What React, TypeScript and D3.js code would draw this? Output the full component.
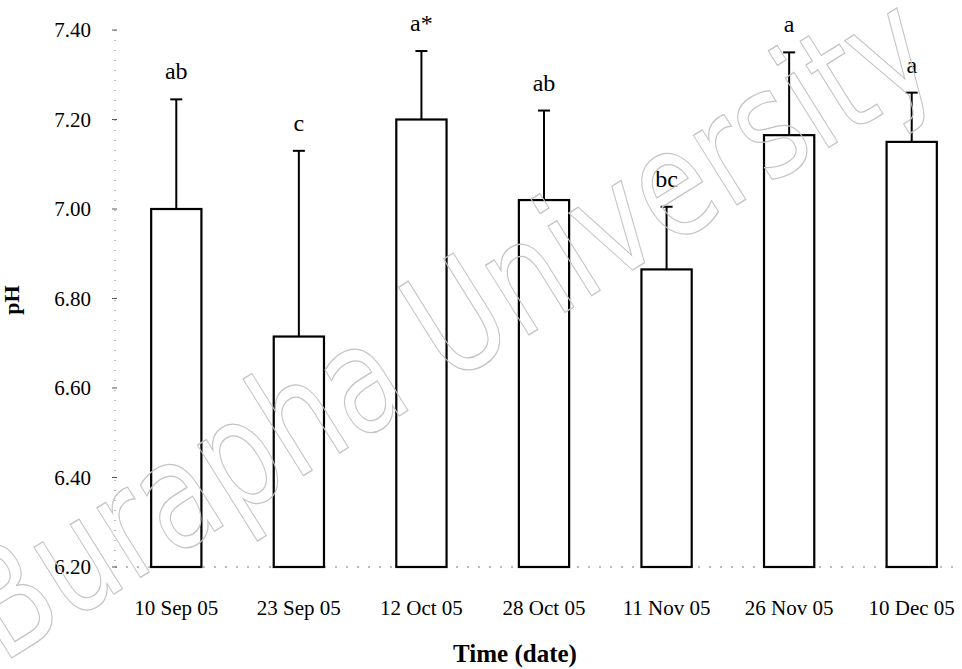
import React, { useEffect, useRef } from "react";
import * as d3 from "d3";

const dates = ["10 Sep 05", "23 Sep 05", "12 Oct 05", "28 Oct 05", "11 Nov 05", "26 Nov 05", "10 Dec 05"];
const meanPH = [7.0, 6.715, 7.2, 7.02, 6.865, 7.165, 7.15];
const upperPH = [7.245, 7.13, 7.353, 7.22, 7.005, 7.35, 7.26];
const groups = ["ab", "c", "a*", "ab", "bc", "a", "a"];
const yTicks = [6.2, 6.4, 6.6, 6.8, 7.0, 7.2, 7.4];

const App = () => {
  const svgRef = useRef<SVGSVGElement>(null);

  useEffect(() => {
    const width = 962;
    const height = 669;
    const serif = "'Liberation Serif', 'Times New Roman', serif";
    document.body.style.margin = "0";

    const svg = d3
      .select(svgRef.current)
      .attr("width", width)
      .attr("height", height)
      .style("display", "block")
      .style("background", "#fff");
    svg.selectAll("*").remove();

    const x = d3.scaleBand().domain(dates).range([115, 973]).paddingInner(0.59).paddingOuter(0.295);
    const y = d3.scaleLinear().domain([6.2, 7.4]).range([567, 30]);

    // axes (dotted, as in the scan)
    svg
      .append("line")
      .attr("x1", 115)
      .attr("x2", 115)
      .attr("y1", y(7.4))
      .attr("y2", y(6.2))
      .attr("stroke", "#777")
      .attr("stroke-dasharray", "1,9");
    svg
      .append("line")
      .attr("x1", 115)
      .attr("x2", 962)
      .attr("y1", y(6.2))
      .attr("y2", y(6.2))
      .attr("stroke", "#777")
      .attr("stroke-dasharray", "2,9");

    const yAxis = svg.append("g");
    yAxis
      .selectAll("line")
      .data(yTicks)
      .join("line")
      .attr("x1", 112)
      .attr("x2", 117)
      .attr("y1", (d) => y(d))
      .attr("y2", (d) => y(d))
      .attr("stroke", "#555");
    yAxis
      .selectAll("text")
      .data(yTicks)
      .join("text")
      .attr("x", 91)
      .attr("y", (d) => y(d))
      .attr("dy", "0.35em")
      .attr("text-anchor", "end")
      .style("font", `21px ${serif}`)
      .text((d) => d3.format(".2f")(d));

    const bars = svg
      .append("g")
      .selectAll("g")
      .data(dates)
      .join("g");

    bars
      .append("rect")
      .attr("x", (d) => x(d)!)
      .attr("width", x.bandwidth())
      .attr("y", (d, i) => y(meanPH[i]))
      .attr("height", (d, i) => y(6.2) - y(meanPH[i]))
      .attr("fill", "#fff")
      .attr("stroke", "#000")
      .attr("stroke-width", 2.2);

    bars
      .append("line")
      .attr("x1", (d) => x(d)! + x.bandwidth() / 2)
      .attr("x2", (d) => x(d)! + x.bandwidth() / 2)
      .attr("y1", (d, i) => y(meanPH[i]))
      .attr("y2", (d, i) => y(upperPH[i]))
      .attr("stroke", "#000")
      .attr("stroke-width", 2);

    bars
      .append("line")
      .attr("x1", (d) => x(d)! + x.bandwidth() / 2 - 6)
      .attr("x2", (d) => x(d)! + x.bandwidth() / 2 + 6)
      .attr("y1", (d, i) => y(upperPH[i]))
      .attr("y2", (d, i) => y(upperPH[i]))
      .attr("stroke", "#000")
      .attr("stroke-width", 2);

    bars
      .append("text")
      .attr("x", (d) => x(d)! + x.bandwidth() / 2)
      .attr("y", (d, i) => y(upperPH[i]) - 20)
      .attr("text-anchor", "middle")
      .style("font", `24px ${serif}`)
      .text((d, i) => groups[i]);

    svg
      .append("g")
      .selectAll("text")
      .data(dates)
      .join("text")
      .attr("x", (d) => x(d)! + x.bandwidth() / 2)
      .attr("y", 615)
      .attr("text-anchor", "middle")
      .style("font", `21px ${serif}`)
      .text((d) => d);

    svg
      .append("text")
      .attr("x", 515)
      .attr("y", 662)
      .attr("text-anchor", "middle")
      .style("font", `bold 25px ${serif}`)
      .text("Time (date)");

    svg
      .append("text")
      .attr("transform", "translate(19,300) rotate(-90)")
      .attr("text-anchor", "middle")
      .style("font", `bold 22px ${serif}`)
      .text("pH");

    // faint watermark, drawn over the chart like the scan
    svg
      .append("text")
      .attr("transform", "translate(2,664) rotate(-32)")
      .attr("textLength", 1110)
      .attr("lengthAdjust", "spacingAndGlyphs")
      .style("font", "150px 'DejaVu Sans', sans-serif")
      .attr("fill", "none")
      .attr("stroke", "#c4c4c4")
      .attr("stroke-width", 1.3)
      .text("Burapha University");
  }, []);

  return <svg ref={svgRef}></svg>;
};

export default App;
